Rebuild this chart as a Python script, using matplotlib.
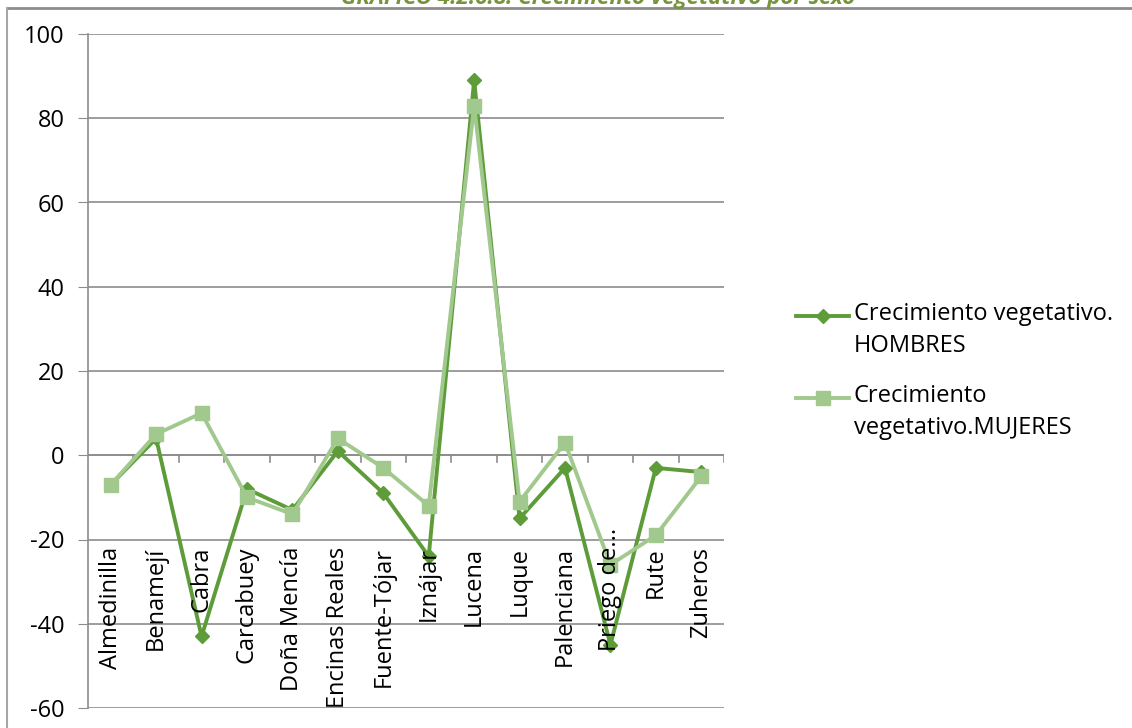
import matplotlib.pyplot as plt
from matplotlib.lines import Line2D
from matplotlib.legend_handler import HandlerLine2D
import numpy as np

plt.rcParams['font.family'] = ['Open Sans', 'DejaVu Sans']
plt.rcParams['axes.unicode_minus'] = False

# Data
municipios = ['Almedinilla', 'Benamejí', 'Cabra', 'Carcabuey', 'Doña Mencía',
              'Encinas Reales', 'Fuente-Tójar', 'Iznájar', 'Lucena', 'Luque',
              'Palenciana', 'Priego de...', 'Rute', 'Zuheros']
hombres = [-7, 4, -43, -8, -13, 1, -9, -24, 89, -15, -3, -45, -3, -4]
mujeres = [-7, 5, 10, -10, -14, 4, -3, -12, 83, -11, 3, -26, -19, -5]
y_ticks = [-60, -40, -20, 0, 20, 40, 60, 80, 100]

c_h = '#5e9c3a'
c_m = '#a2c98d'
grid_c = '#8c8c8c'
fs = 17


# legend handle drawn level with the first line of a two-line label
class FirstLineHandler(HandlerLine2D):
    def create_artists(self, legend, orig_handle, xdescent, ydescent,
                       width, height, fontsize, trans):
        return super().create_artists(legend, orig_handle, xdescent, ydescent - 22,
                                      width, height, fontsize, trans)


W, H = 1132, 728
fig = plt.figure(figsize=(W / 100, H / 100), dpi=100)
ax = fig.add_axes([88 / W, (H - 708) / H, (724 - 88) / W, (708 - 34) / H])

x = np.arange(len(municipios))
lh, = ax.plot(x, hombres, color=c_h, lw=2.8, marker='D', ms=7.5,
              label='Crecimiento vegetativo.\nHOMBRES', zorder=3)
lm, = ax.plot(x, mujeres, color=c_m, lw=2.8, marker='s', ms=10.5,
              label='Crecimiento\nvegetativo.MUJERES', zorder=4)

ax.set_xlim(-0.5, len(municipios) - 0.5)
ax.set_ylim(-60, 100)
ax.set_yticks(y_ticks)
ax.tick_params(axis='y', length=7, color=grid_c, labelsize=fs, pad=10)
ax.yaxis.grid(True, color=grid_c, lw=1.2)
ax.set_axisbelow(True)

for s in ['top', 'right', 'bottom']:
    ax.spines[s].set_visible(False)
ax.spines['left'].set_color(grid_c)
ax.spines['left'].set_linewidth(1.2)

# category axis sits at zero, ticks between categories
ax.set_xticks([])
ax.axhline(0, color=grid_c, lw=1.2, zorder=1)
for b in np.arange(0.5, len(municipios), 1.0):
    ax.plot([b, b], [0, -1.7], color=grid_c, lw=1.2, zorder=1)
for i, name in enumerate(municipios):
    off = -52 if name.endswith('...') else -66
    ax.annotate(name, (i, 0), xytext=(0, off), textcoords='offset points',
                rotation=90, ha='center', va='top', fontsize=fs, zorder=5)

leg = ax.legend(loc='upper left', bbox_to_anchor=(796 / W, 1 - 302 / H),
                bbox_transform=fig.transFigure, frameon=False, fontsize=fs,
                handlelength=2.25, handletextpad=0.2, labelspacing=1.1,
                borderpad=0, borderaxespad=0,
                handler_map={lh: FirstLineHandler(), lm: FirstLineHandler()})
for t in leg.get_texts():
    t.set_linespacing(1.45)

# outer frame of the chart
fig.add_artist(Line2D([7 / W, 1], [1 - 8 / H, 1 - 8 / H], color='#8c8c8c', lw=2))
fig.add_artist(Line2D([7 / W, 7 / W], [0, 1 - 8 / H], color='#a6a6a6', lw=1.5))

fig.text(598 / W, 1 - 4 / H, 'GRÁFICO 4.2.6.8: Crecimiento vegetativo por sexo',
         ha='center', va='baseline', fontsize=16, style='italic', fontweight='bold',
         color='#77933c')

fig.savefig('out.png', dpi=100)
